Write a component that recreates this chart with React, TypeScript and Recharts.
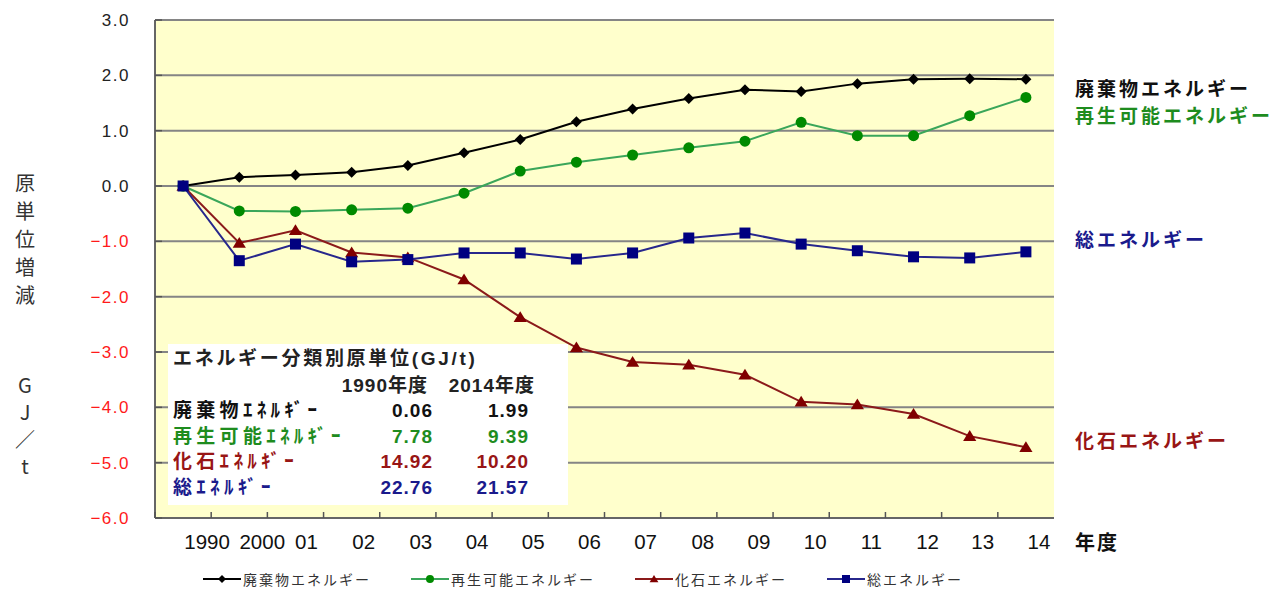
import React from "react";
import { LineChart, Line, XAxis, YAxis, CartesianGrid } from "recharts";

const years = ["1990", "2000", "01", "02", "03", "04", "05", "06", "07", "08", "09", "10", "11", "12", "13", "14"];
const wasteEnergy = [0, 0.16, 0.2, 0.25, 0.37, 0.6, 0.84, 1.16, 1.39, 1.58, 1.74, 1.71, 1.85, 1.93, 1.94, 1.93];
const renewableEnergy = [0, -0.45, -0.46, -0.43, -0.4, -0.13, 0.27, 0.43, 0.56, 0.69, 0.81, 1.15, 0.91, 0.91, 1.27, 1.6];
const fossilEnergy = [0, -1.03, -0.8, -1.2, -1.29, -1.69, -2.37, -2.92, -3.18, -3.23, -3.41, -3.9, -3.95, -4.12, -4.52, -4.72];
const totalEnergy = [0, -1.35, -1.05, -1.37, -1.33, -1.21, -1.21, -1.32, -1.21, -0.94, -0.85, -1.05, -1.17, -1.28, -1.3, -1.19];
const yTicks = [-6, -5, -4, -3, -2, -1, 0, 1, 2, 3];

const seriesNames = ["廃棄物エネルギー", "再生可能エネルギー", "化石エネルギー", "総エネルギー"];

const tableTitle = "エネルギー分類別原単位(GJ/t)";
const tableYears = ["1990年度", "2014年度"];
const tableRows = ["廃棄物ｴﾈﾙｷﾞｰ", "再生可能ｴﾈﾙｷﾞｰ", "化石ｴﾈﾙｷﾞｰ", "総ｴﾈﾙｷﾞｰ"];
const table1990 = ["0.06", "7.78", "14.92", "22.76"];
const table2014 = ["1.99", "9.39", "10.20", "21.57"];

const yTitle = ["原", "単", "位", "増", "減"];
const yUnit = ["G", "J", "／", "t"];

// the year labels sit a little right of their points in the original
const labelNudge = [24, 23, 11, 12, 13, 13, 13, 13, 13, 14, 14, 14, 14, 14, 13, 13];

const W = 1276;
const H = 589;
const M = { top: 20, right: 222, bottom: 41, left: 0 };
const Y_AXIS_W = 155;
const PLOT_W = W - M.right - Y_AXIS_W;
const BAND = PLOT_W / years.length;

const JP = "'Noto Sans CJK JP', 'Noto Sans', sans-serif";
const LAT = "'Liberation Sans', Arial, 'Noto Sans CJK JP', sans-serif";

const series = [
  { key: "waste", name: seriesNames[0], line: "#000000", mark: "#000000", shape: "diamond", text: "#111111" },
  { key: "renewable", name: seriesNames[1], line: "#3aa65a", mark: "#008a00", shape: "circle", text: "#1e8c1e" },
  { key: "fossil", name: seriesNames[2], line: "#8b1a1a", mark: "#800000", shape: "triangle", text: "#981515" },
  { key: "total", name: seriesNames[3], line: "#27278c", mark: "#000080", shape: "square", text: "#1a1a8c" },
];

const data = years.map((year, i) => ({
  year,
  waste: wasteEnergy[i],
  renewable: renewableEnergy[i],
  fossil: fossilEnergy[i],
  total: totalEnergy[i],
}));

function Marker({ shape, cx, cy, color, s }: any) {
  if (cx == null || cy == null) return null;
  if (shape === "diamond")
    return <polygon points={`${cx},${cy - s} ${cx + s},${cy} ${cx},${cy + s} ${cx - s},${cy}`} fill={color} />;
  if (shape === "circle") return <circle cx={cx} cy={cy} r={s} fill={color} />;
  if (shape === "triangle")
    return <polygon points={`${cx},${cy - s} ${cx + s * 1.1},${cy + s * 0.8} ${cx - s * 1.1},${cy + s * 0.8}`} fill={color} />;
  return <rect x={cx - s} y={cy - s} width={s * 2} height={s * 2} fill={color} />;
}

function XTick({ x, y, payload, index }: any) {
  return (
    <g>
      <line x1={x - BAND / 2} x2={x - BAND / 2} y1={y} y2={y - 6} stroke="#555" strokeWidth={1.5} />
      <text x={x + (labelNudge[index] || 0)} y={y + 31} textAnchor="middle" fontSize={20.5} fill="#111" fontFamily={LAT}>
        {payload.value}
      </text>
    </g>
  );
}

function YTick({ x, y, payload }: any) {
  const v = payload.value as number;
  const neg = v < 0;
  return (
    <g>
      <line x1={x + 25} x2={x + 32} y1={y} y2={y} stroke="#555" strokeWidth={1.5} />
      <text x={x} y={y + 6} textAnchor="end" fontSize={17} letterSpacing={1.5} fill={neg ? "#ff1a1a" : "#222"} fontFamily={LAT}>
        {neg ? "−" + Math.abs(v).toFixed(1) : v.toFixed(1)}
      </text>
    </g>
  );
}

export default function App() {
  return (
    <div style={{ position: "absolute", left: 0, top: 0, width: W, height: H, background: "#fff" }}>
      <LineChart width={W} height={H} data={data} margin={M}>
        <CartesianGrid vertical={false} stroke="#858585" strokeWidth={2} fill="#FFFFCC" fillOpacity={1} />
        <XAxis
          dataKey="year"
          scale="point"
          padding={{ left: BAND / 2, right: BAND / 2 }}
          interval={0}
          tickSize={0}
          tickMargin={0}
          tickLine={false}
          axisLine={{ stroke: "#666", strokeWidth: 2 }}
          tick={<XTick />}
          height={30}
        />
        <YAxis
          type="number"
          domain={[-6, 3]}
          ticks={yTicks}
          interval={0}
          width={Y_AXIS_W}
          tickSize={0}
          tickMargin={25}
          tickLine={false}
          axisLine={{ stroke: "#666", strokeWidth: 2 }}
          tick={<YTick />}
        />
        <YAxis
          yAxisId="right"
          orientation="right"
          type="number"
          domain={[0, 1]}
          width={0}
          tick={false}
          tickLine={false}
          axisLine={{ stroke: "#888", strokeWidth: 2 }}
        />
        {series.map((s) => (
          <Line
            key={s.key}
            dataKey={s.key}
            name={s.name}
            stroke={s.line}
            strokeWidth={2}
            isAnimationActive={false}
            activeDot={false}
            dot={(p: any) => (
              <Marker
                key={`${s.key}-${p.index}`}
                shape={s.shape}
                cx={p.cx}
                cy={p.cy}
                color={s.mark}
                s={s.shape === "diamond" ? 5.5 : s.shape === "triangle" ? 6 : 5.5}
              />
            )}
          />
        ))}
      </LineChart>

      <svg width={W} height={H} style={{ position: "absolute", left: 0, top: 0, pointerEvents: "none" }}>
        {/* y axis title */}
        {yTitle.map((c, i) => (
          <text key={c} x={25} y={191 + i * 28} textAnchor="middle" fontSize={20} fill="#333" fontFamily={JP}>
            {c}
          </text>
        ))}
        {yUnit.map((c, i) => (
          <text key={c} x={25} y={393 + i * 27} textAnchor="middle" fontSize={20} fill="#333" fontFamily={JP}>
            {c}
          </text>
        ))}

        {/* right side series labels */}
        <text x={1075} y={96} fontSize={19} fontWeight={700} letterSpacing={3} fill={series[0].text} fontFamily={JP}>
          {seriesNames[0]}
        </text>
        <text x={1075} y={123} fontSize={19} fontWeight={700} letterSpacing={3} fill={series[1].text} fontFamily={JP}>
          {seriesNames[1]}
        </text>
        <text x={1075} y={247} fontSize={19} fontWeight={700} letterSpacing={3} fill={series[3].text} fontFamily={JP}>
          {seriesNames[3]}
        </text>
        <text x={1075} y={448} fontSize={19} fontWeight={700} letterSpacing={3} fill={series[2].text} fontFamily={JP}>
          {seriesNames[2]}
        </text>

        <text x={1075} y={550} fontSize={20} fontWeight={700} letterSpacing={2} fill="#111" fontFamily={JP}>
          年度
        </text>

        {/* inset table */}
        <rect x={168} y={344} width={400} height={161} fill="#fff" />
        <text x={173} y={365} fontSize={19} fontWeight={700} letterSpacing={2.7} fill="#222" fontFamily={LAT}>
          {tableTitle}
        </text>
        <text x={428} y={392} textAnchor="end" fontSize={19} fontWeight={700} letterSpacing={1} fill="#222" fontFamily={LAT}>
          {tableYears[0]}
        </text>
        <text x={535} y={392} textAnchor="end" fontSize={19} fontWeight={700} letterSpacing={1} fill="#222" fontFamily={LAT}>
          {tableYears[1]}
        </text>
        {tableRows.map((r, i) => {
          const color = series[i].text;
          const y = 417 + i * 25.5;
          return (
            <g key={r}>
              <text x={173} y={y} fontSize={19} fontWeight={700} letterSpacing={4.3} fill={color} fontFamily={JP}>
                {r}
              </text>
              <text x={433} y={y} textAnchor="end" fontSize={19} fontWeight={700} letterSpacing={1} fill={color} fontFamily={LAT}>
                {table1990[i]}
              </text>
              <text x={529} y={y} textAnchor="end" fontSize={19} fontWeight={700} letterSpacing={1} fill={color} fontFamily={LAT}>
                {table2014[i]}
              </text>
            </g>
          );
        })}
      </svg>

      {/* legend */}
      <div
        style={{
          position: "absolute",
          left: 203,
          top: 569,
          display: "flex",
          gap: 40,
          alignItems: "center",
          fontFamily: JP,
          fontSize: 14,
          letterSpacing: 2,
          color: "#333",
        }}
      >
        {series.map((s) => (
          <div key={s.key} style={{ display: "flex", alignItems: "center" }}>
            <svg width={40} height={16}>
              <line x1={0} x2={38} y1={8} y2={8} stroke={s.line} strokeWidth={2} />
              <Marker shape={s.shape} cx={19} cy={8} color={s.mark} s={4} />
            </svg>
            <span>{s.name}</span>
          </div>
        ))}
      </div>
    </div>
  );
}
